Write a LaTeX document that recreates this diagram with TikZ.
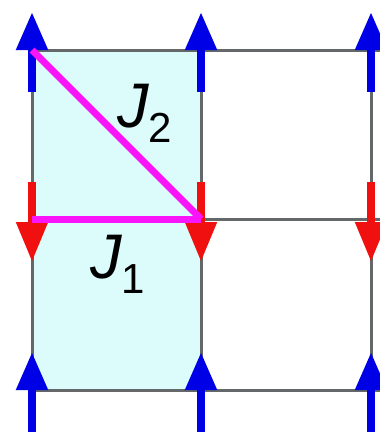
\documentclass[tikz,border=0pt]{standalone}
\usepackage{fontspec}
\setmainfont{Liberation Sans}
\usetikzlibrary{arrows.meta,calc}
\definecolor{cellfill}{RGB}{220,252,252}
\definecolor{gridgray}{RGB}{100,104,104}
\definecolor{spinblue}{RGB}{0,0,230}
\definecolor{spinred}{RGB}{240,16,16}
\definecolor{bondmag}{RGB}{250,20,250}
\tikzset{
  gridline/.style={draw=gridgray,line width=3pt},
  spinup/.style={draw=spinblue,line width=8pt,-{Triangle[length=38pt,width=30pt]}},
  spindown/.style={draw=spinred,line width=8pt,-{Triangle[length=40pt,width=30pt]}},
  bond/.style={draw=bondmag,line width=7pt},
  lbl/.style={inner sep=0pt,anchor=base west},
}
\newcommand{\Jlab}[1]{{\fontsize{63}{63}\selectfont\itshape J}\raisebox{-15pt}{\fontsize{42}{42}\selectfont #1}}
\begin{document}
\begin{tikzpicture}[x=1pt,y=-1pt]
\useasboundingbox (0,0) rectangle (380,432);
% lattice vertices
\coordinate (a1) at (32,50);  \coordinate (b1) at (201,50);  \coordinate (c1) at (371,50);
\coordinate (a2) at (32,219); \coordinate (b2) at (201,219); \coordinate (c2) at (371,219);
\coordinate (a3) at (32,390); \coordinate (b3) at (201,390); \coordinate (c3) at (371,390);
\coordinate (e1) at (380,50); \coordinate (e2) at (380,219); \coordinate (e3) at (380,390);
% shaded cell
\fill[cellfill] (a1) rectangle (b3);
% grid
\draw[gridline] (a1) -- (e1);
\draw[gridline] (a2) -- (e2);
\draw[gridline] (a3) -- (e3);
\draw[gridline] (a1) -- (a3);
\draw[gridline] (b1) -- (b3);
\draw[gridline] (c1) -- (c3);
% spins
\foreach \v in {a1,b1,c1,a3,b3,c3}{
  \draw[spinup] ($(\v)+(0,42)$) -- ($(\v)+(0,-38)$);
}
\foreach \v in {a2,b2,c2}{
  \draw[spindown] ($(\v)+(0,-37)$) -- ($(\v)+(0,43)$);
}
% bonds
\draw[bond] (a1) -- (b2);
\draw[bond] (a2) -- (b2);
% labels
\node[lbl] (J2) at (117,127) {\Jlab{2}};
\node[lbl] (J1) at (90,278) {\Jlab{1}};
\end{tikzpicture}
\end{document}
